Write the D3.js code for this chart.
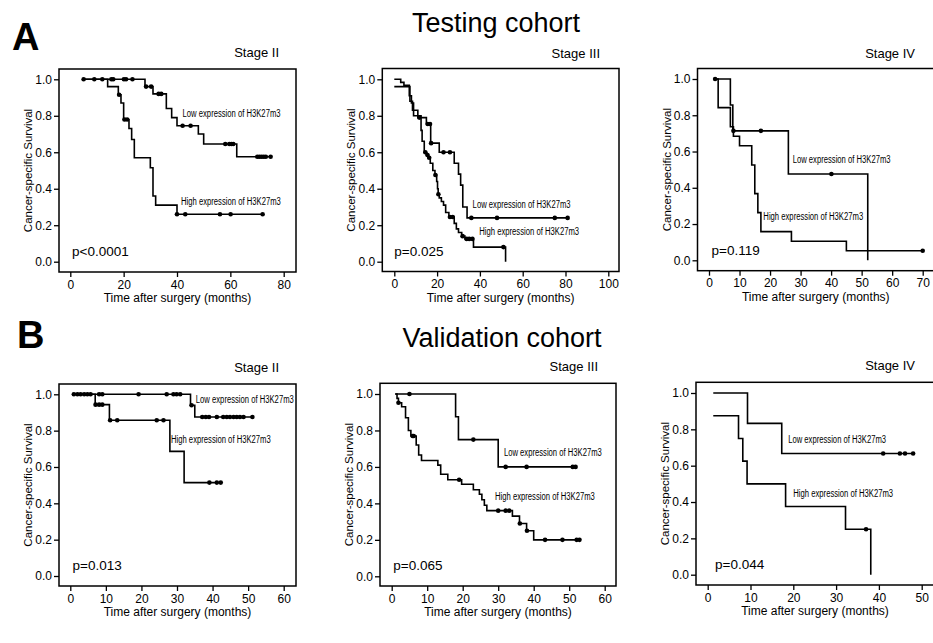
<!DOCTYPE html>
<html>
<head>
<meta charset="utf-8">
<script src="https://cdn.jsdelivr.net/npm/d3@7"></script>
<style>
  body { margin: 0; background: #fff; }
  svg { display: block; }
</style>
</head>
<body>
<div id="chart"></div>
<script>
// Kaplan-Meier curves, H3K27m3 expression, testing and validation cohorts

////////////////////////////////////////////////////////////////////////////////
// Data
const cohorts = ['Testing cohort', 'Validation cohort'];
const panelLetters = ['A', 'B'];
const stages = ['Stage II', 'Stage III', 'Stage IV'];
const pValues = ['p<0.0001', 'p=0.025', 'p=0.119', 'p=0.013', 'p=0.065', 'p=0.044'];
const xMaxes = [80, 100, 70, 60, 60, 50];
const xTickSteps = [20, 20, 10, 10, 10, 10];
const yTicks = [0, 0.2, 0.4, 0.6, 0.8, 1.0];
const lowLabel = 'Low expression of H3K27m3';
const highLabel = 'High expression of H3K27m3';

// steps: [time, survival after the drop]; first pair is the start of the curve
// censor: times of censored cases
const tStage2LowSteps = [[5, 1], [28, 0.96], [31, 0.92], [36, 0.84], [38, 0.79], [40, 0.745], [48, 0.70], [50, 0.645], [62.4, 0.575]];
const tStage2LowCensor = [5, 9, 12, 15.4, 16.1, 20.1, 20.9, 23.3, 28.4, 30.3, 33.1, 34.1, 42.1, 45.1, 58.1, 59.6, 60.4, 61.1, 70.1, 70.9, 71.7, 72.5, 73.3, 75.1];
const tStage2HighSteps = [[5, 1], [14, 0.96], [18, 0.915], [19, 0.87], [20, 0.78], [22, 0.73], [23, 0.67], [24, 0.57], [30, 0.515], [31, 0.36], [32, 0.31], [40, 0.26]];
const tStage2HighCensor = [18.3, 20.3, 21.3, 40, 43.1, 56.1, 60.1, 72.1];

const tStage3LowSteps = [[0, 0.96], [7.3, 0.88], [8.5, 0.83], [11, 0.79], [15, 0.755], [17, 0.65], [21, 0.60], [28, 0.54], [30, 0.48], [31, 0.42], [32, 0.30], [34, 0.24]];
const tStage3LowCensor = [11.7, 15.6, 16.7, 17.2, 23, 26, 36, 48, 75, 81];
const tStage3HighSteps = [[0, 1], [3, 0.983], [4.5, 0.967], [7, 0.91], [8, 0.87], [9, 0.80], [12.5, 0.72], [13, 0.66], [14, 0.60], [15, 0.585], [16, 0.57], [16.8, 0.54], [18, 0.50], [19, 0.475], [19.8, 0.44], [20.2, 0.40], [20.5, 0.37], [21, 0.35], [22, 0.33], [23, 0.31], [24, 0.27], [25.5, 0.245], [28, 0.21], [29, 0.18], [30, 0.16], [31.5, 0.14], [33, 0.125], [37, 0.08], [52, 0]];
const tStage3HighCensor = [14.5, 15.5, 16.3, 19.2, 20.6, 26, 27.3, 31.9, 33.8, 35, 36.5, 51];

const tStage4LowSteps = [[2, 1], [7, 0.857], [7.8, 0.714], [26, 0.476], [52, 0]];
const tStage4LowCensor = [2, 8, 17, 40.1];
const tStage4HighSteps = [[2, 1], [3, 0.842], [7, 0.737], [8, 0.684], [10, 0.632], [14, 0.526], [15, 0.368], [16, 0.263], [17, 0.158], [27, 0.105], [45, 0.053]];
const tStage4HighCensor = [70];

const vStage2LowSteps = [[1, 1], [33.8, 0.94], [35, 0.875]];
const vStage2LowCensor = [1, 2, 2.9, 3.9, 4.8, 5.7, 8.1, 9, 19.2, 27.1, 29, 29.9, 30.9, 34.1, 37.1, 38.1, 39, 41.2, 43, 44, 44.9, 45.9, 46.8, 47.7, 48.7, 51.2];
const vStage2HighSteps = [[1, 1], [7, 0.943], [11, 0.857], [28, 0.686], [32, 0.514]];
const vStage2HighCensor = [7.1, 8.1, 9, 11.2, 13.2, 24.3, 26.2, 39.1, 41.2, 42.3];

const vStage3LowSteps = [[1, 1], [18, 0.875], [18.8, 0.75], [30, 0.60]];
const vStage3LowCensor = [5, 23, 32.1, 38, 51, 51.8];
const vStage3HighSteps = [[1, 1], [1.5, 0.976], [1.9, 0.952], [2.8, 0.93], [3.9, 0.87], [4.7, 0.80], [5.4, 0.77], [6.9, 0.72], [7.6, 0.665], [8.4, 0.635], [13, 0.61], [13.8, 0.56], [15.8, 0.53], [19.7, 0.505], [23, 0.475], [24.7, 0.45], [25.4, 0.42], [26.1, 0.39], [26.8, 0.36], [34, 0.33], [36, 0.29], [38, 0.25], [40, 0.20]];
const vStage3HighCensor = [1.9, 5.9, 6.2, 19, 30, 32.1, 33.1, 36.1, 38.1, 43.2, 48.1, 52.1, 52.9];

const vStage4LowSteps = [[1.3, 1], [9.3, 0.833], [17.3, 0.667]];
const vStage4LowCensor = [41, 44.9, 46.1, 48];
const vStage4HighSteps = [[1.3, 0.875], [7.2, 0.75], [8.2, 0.625], [9.2, 0.5], [18.2, 0.375], [32.2, 0.25], [38.1, 0]];
const vStage4HighCensor = [37];

////////////////////////////////////////////////////////////////////////////////
// Layout
const width = 933;
const height = 643;
const fontMain = '"Liberation Sans", Arimo, Arial, sans-serif';

// frame [left, top, right, bottom], x range, y range (1.0 -> 0.0)
const panels = [
  { frame: [59, 69, 296, 272], xr: [70.3, 283.7], yr: [79.3, 261.7], stageX: 279, stageY: 57,
    low: [tStage2LowSteps, tStage2LowCensor], high: [tStage2HighSteps, tStage2HighCensor],
    lowAt: [42.1, 0.795], highAt: [41.5, 0.31], pdx: 13 },
  { frame: [382.3, 68.5, 619, 271.5], xr: [394.3, 608.3], yr: [79.3, 261.7], stageX: 600, stageY: 58,
    low: [tStage3LowSteps, tStage3LowCensor], high: [tStage3HighSteps, tStage3HighCensor],
    lowAt: [36.6, 0.293], highAt: [39.7, 0.146], pdx: 12 },
  { frame: [697.5, 68.5, 934, 270.7], xr: [709, 922.7], yr: [79, 260.3], stageX: 915, stageY: 58,
    low: [tStage4LowSteps, tStage4LowCensor], high: [tStage4HighSteps, tStage4HighCensor],
    lowAt: [27.4, 0.535], highAt: [17.8, 0.222], pdx: 14 },
  { frame: [59, 384, 296, 586], xr: [70.3, 283.7], yr: [394.3, 576], stageX: 279, stageY: 371.5,
    low: [vStage2LowSteps, vStage2LowCensor], high: [vStage2HighSteps, vStage2HighCensor],
    lowAt: [35.3, 0.95], highAt: [28.3, 0.73], pdx: 13.5 },
  { frame: [380, 383.3, 616, 586], xr: [391.7, 604.7], yr: [394, 576.3], stageX: 598, stageY: 370.7,
    low: [vStage3LowSteps, vStage3LowCensor], high: [vStage3HighSteps, vStage3HighCensor],
    lowAt: [31.6, 0.66], highAt: [29.1, 0.418], pdx: 13.3 },
  { frame: [696, 382.3, 934, 585], xr: [707.7, 921.7], yr: [393, 574.7], stageX: 915, stageY: 370,
    low: [vStage4LowSteps, vStage4LowCensor], high: [vStage4HighSteps, vStage4HighCensor],
    lowAt: [18.8, 0.723], highAt: [20, 0.429], pdx: 19 },
];

const svg = d3.select('#chart').append('svg')
  .attr('width', width)
  .attr('height', height);

svg.append('rect').attr('width', width).attr('height', height).attr('fill', '#fff');

////////////////////////////////////////////////////////////////////////////////
// Headings
const headings = [
  { letterX: 12, letterY: 50, titleX: 496, titleY: 32 },
  { letterX: 17, letterY: 348, titleX: 502, titleY: 346.7 },
];
headings.forEach((h, i) => {
  svg.append('text')
    .attr('x', h.letterX).attr('y', h.letterY)
    .style('font-family', fontMain).style('font-weight', 'bold').style('font-size', '38px')
    .text(panelLetters[i]);
  svg.append('text')
    .attr('x', h.titleX).attr('y', h.titleY)
    .attr('text-anchor', 'middle')
    .style('font-family', fontMain).style('font-size', '27px')
    .text(cohorts[i]);
});

////////////////////////////////////////////////////////////////////////////////
// Helpers
function survAt (steps, t) {
  let s = steps[0][1];
  steps.forEach(([tt, v]) => { if (tt <= t) s = v; });
  return s;
}

function curvePoints (steps, censor) {
  const last = steps[steps.length - 1];
  if (last[1] === 0) return steps;
  const tEnd = Math.max(last[0], d3.max(censor));
  return steps.concat([[tEnd, last[1]]]);
}

////////////////////////////////////////////////////////////////////////////////
// Panels
panels.forEach((p, i) => {
  const [fl, ft, fr, fb] = p.frame;
  const x = d3.scaleLinear().domain([0, xMaxes[i]]).range(p.xr);
  const y = d3.scaleLinear().domain([1, 0]).range(p.yr);
  const g = svg.append('g');

  // axes
  const yAxis = d3.axisLeft(y).tickValues(yTicks).tickFormat(d3.format('.1f'))
    .tickSize(5).tickPadding(2);
  const xAxis = d3.axisBottom(x).tickValues(d3.range(0, xMaxes[i] + 0.001, xTickSteps[i]))
    .tickFormat(d3.format('d')).tickSize(5).tickPadding(3);

  const ya = g.append('g').attr('transform', `translate(${fl},0)`).call(yAxis);
  const xa = g.append('g').attr('transform', `translate(0,${fb})`).call(xAxis);
  [ya, xa].forEach(a => {
    a.attr('font-family', null).attr('font-size', null);
    a.select('.domain').remove();
    a.selectAll('line').attr('stroke', '#000').attr('stroke-width', 1.3);
    a.selectAll('text')
      .style('font-family', fontMain).style('font-size', '12px').attr('fill', '#000');
  });

  // frame
  g.append('rect')
    .attr('x', fl).attr('y', ft)
    .attr('width', fr - fl).attr('height', fb - ft)
    .attr('fill', 'none').attr('stroke', '#000').attr('stroke-width', 1.5);

  // axis titles
  g.append('text')
    .attr('x', (fl + fr) / 2).attr('y', fb + 30)
    .attr('text-anchor', 'middle')
    .style('font-family', fontMain).style('font-size', '12px')
    .text('Time after surgery (months)');
  g.append('text')
    .attr('transform', `translate(${fl - 27},${(ft + fb) / 2}) rotate(-90)`)
    .attr('text-anchor', 'middle')
    .style('font-family', fontMain).style('font-size', '11.5px')
    .text('Cancer-specific Survival');

  // stage label
  g.append('text')
    .attr('x', p.stageX).attr('y', p.stageY)
    .attr('text-anchor', 'end')
    .style('font-family', fontMain).style('font-size', '13px')
    .text(stages[i % 3]);

  // p-value
  g.append('text')
    .attr('x', fl + p.pdx).attr('y', fb - 16)
    .style('font-family', fontMain).style('font-size', '13.5px')
    .text(pValues[i]);

  // survival curves
  const line = d3.line()
    .x(d => x(d[0]))
    .y(d => y(d[1]))
    .curve(d3.curveStepAfter);

  [p.high, p.low].forEach(([steps, censor]) => {
    g.append('path')
      .attr('d', line(curvePoints(steps, censor)))
      .attr('fill', 'none')
      .attr('stroke', '#000')
      .attr('stroke-width', 1.6);

    g.selectAll(null)
      .data(censor)
      .enter()
        .append('circle')
        .attr('cx', d => x(d))
        .attr('cy', d => y(survAt(steps, d)))
        .attr('r', 2.3)
        .attr('fill', '#000');
  });

  // curve labels, squeezed horizontally like the narrow font of the original
  [[lowLabel, p.lowAt, 98], [highLabel, p.highAt, 100]].forEach(([txt, at, len]) => {
    const t = g.append('text')
      .style('font-family', fontMain).style('font-size', '11.5px')
      .text(txt);
    const natural = t.node().getComputedTextLength() || len;
    t.attr('transform', `translate(${x(at[0])},${y(at[1])}) scale(${len / natural},1)`);
  });
});
</script>
</body>
</html>
